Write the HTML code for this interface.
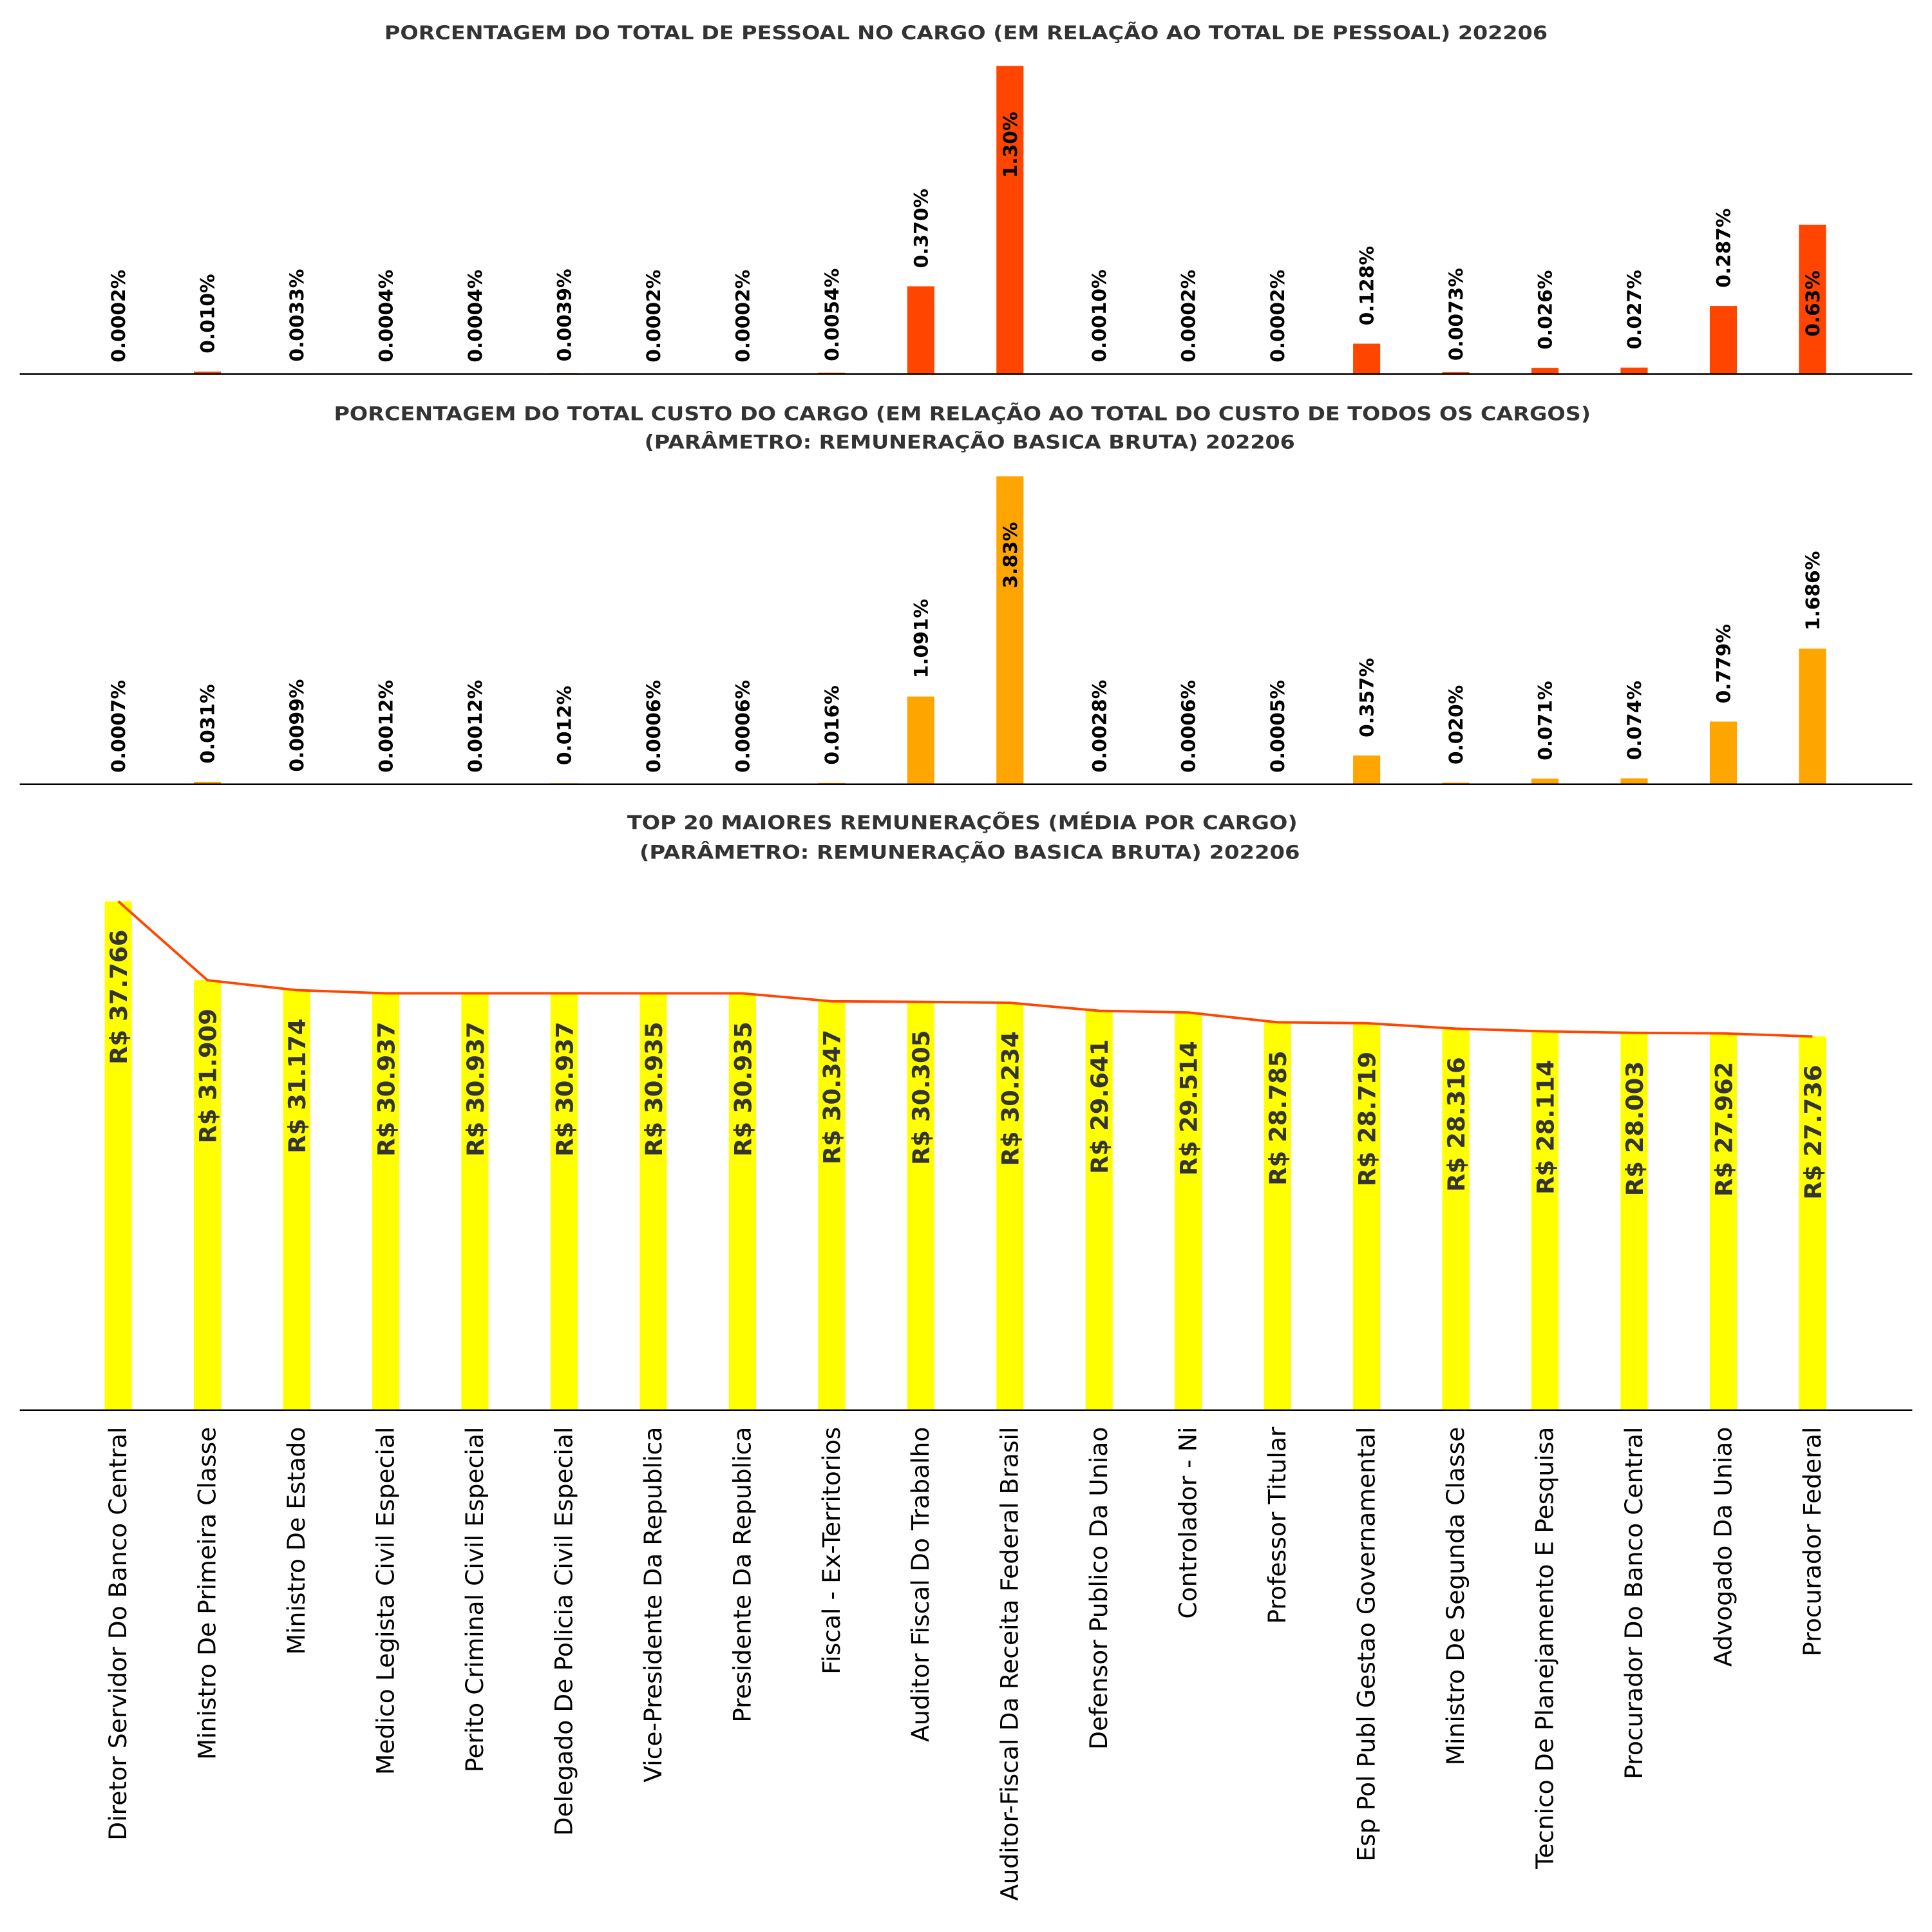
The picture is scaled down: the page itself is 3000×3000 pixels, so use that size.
<!DOCTYPE html>
<html><head><meta charset="utf-8">
<style>
html,body{margin:0;padding:0;background:#fff;}
svg{display:block;}
text{font-family:"DejaVu Sans","Liberation Sans",sans-serif;}
</style></head>
<body>
<svg id="chart" width="3000" height="3000" viewBox="0 0 1568 1568" xmlns="http://www.w3.org/2000/svg">
<rect x="0" y="0" width="1568" height="1568" fill="#fff"/>
<g fill="#333" font-weight="bold" font-size="15.5" text-anchor="middle">
<text x="784" y="32" textLength="944" lengthAdjust="spacingAndGlyphs">PORCENTAGEM DO TOTAL DE PESSOAL NO CARGO (EM RELAÇÃO AO TOTAL DE PESSOAL) 202206</text>
<text x="781" y="341" textLength="1020" lengthAdjust="spacingAndGlyphs">PORCENTAGEM DO TOTAL CUSTO DO CARGO (EM RELAÇÃO AO TOTAL DO CUSTO DE TODOS OS CARGOS)</text>
<text x="787" y="364" textLength="528" lengthAdjust="spacingAndGlyphs">(PARÂMETRO: REMUNERAÇÃO BASICA BRUTA) 202206</text>
<text x="781" y="673" textLength="544" lengthAdjust="spacingAndGlyphs">TOP 20 MAIORES REMUNERAÇÕES (MÉDIA POR CARGO)</text>
<text x="787" y="697" textLength="536" lengthAdjust="spacingAndGlyphs">(PARÂMETRO: REMUNERAÇÃO BASICA BRUTA)  202206</text>
</g>
<g id="p1"></g>
<g id="p2"></g>
<g id="p3"></g>
</svg>
<script>
const categories = ["Diretor Servidor Do Banco Central","Ministro De Primeira Classe","Ministro De Estado","Medico Legista Civil Especial","Perito Criminal Civil Especial","Delegado De Policia Civil Especial","Vice-Presidente Da Republica","Presidente Da Republica","Fiscal - Ex-Territorios","Auditor Fiscal Do Trabalho","Auditor-Fiscal Da Receita Federal Brasil","Defensor Publico Da Uniao","Controlador - Ni","Professor Titular","Esp Pol Publ Gestao Governamental","Ministro De Segunda Classe","Tecnico De Planejamento E Pesquisa","Procurador Do Banco Central","Advogado Da Uniao","Procurador Federal"];
const pessoalValues = [0.0002,0.010,0.0033,0.0004,0.0004,0.0039,0.0002,0.0002,0.0054,0.370,1.30,0.0010,0.0002,0.0002,0.128,0.0073,0.026,0.027,0.287,0.63];
const pessoalLabels = ["0.0002%","0.010%","0.0033%","0.0004%","0.0004%","0.0039%","0.0002%","0.0002%","0.0054%","0.370%","1.30%","0.0010%","0.0002%","0.0002%","0.128%","0.0073%","0.026%","0.027%","0.287%","0.63%"];
const custoValues = [0.0007,0.031,0.0099,0.0012,0.0012,0.012,0.0006,0.0006,0.016,1.091,3.83,0.0028,0.0006,0.0005,0.357,0.020,0.071,0.074,0.779,1.686];
const custoLabels = ["0.0007%","0.031%","0.0099%","0.0012%","0.0012%","0.012%","0.0006%","0.0006%","0.016%","1.091%","3.83%","0.0028%","0.0006%","0.0005%","0.357%","0.020%","0.071%","0.074%","0.779%","1.686%"];
const remuneracaoValues = [37766,31909,31174,30937,30937,30937,30935,30935,30347,30305,30234,29641,29514,28785,28719,28316,28114,28003,27962,27736];
const remuneracaoLabels = ["R$ 37.766","R$ 31.909","R$ 31.174","R$ 30.937","R$ 30.937","R$ 30.937","R$ 30.935","R$ 30.935","R$ 30.347","R$ 30.305","R$ 30.234","R$ 29.641","R$ 29.514","R$ 28.785","R$ 28.719","R$ 28.316","R$ 28.114","R$ 28.003","R$ 27.962","R$ 27.736"];

const NS = "http://www.w3.org/2000/svg";
function mk(tag, attrs, parent){
  const e = document.createElementNS(NS, tag);
  for (const k in attrs) e.setAttribute(k, attrs[k]);
  parent.appendChild(e);
  return e;
}
function xScale(i){ return 96 + i * (1471 - 96) / 19; }
const BW = 22;

function pctPanel(gid, vals, labels, base, color, name){
  const g = document.getElementById(gid);
  const maxV = Math.max(...vals);
  const y = v => base - v / maxV * 250;
  vals.forEach((v, i) => {
    const top = y(v);
    const r = mk('rect', {x: xScale(i) - BW/2, y: top, width: BW, height: base - top, fill: color}, g);
    
    
    const cy = (v / maxV > 0.45) ? top + 64 : top - 47;
    const cx = xScale(i) + 5.5;
    const t = mk('text', {x: cx, y: cy, 'text-anchor': 'middle', 'font-size': '15.5', 'font-weight': 'bold', fill: '#000', transform: 'rotate(-90 ' + cx + ' ' + cy + ')'}, g);
    t.textContent = labels[i];
    
    
  });
  const ax = mk('line', {x1: 16, x2: 1552, y1: base, y2: base, stroke: '#000', 'stroke-width': 1.3}, g);
  
  
}
pctPanel('p1', pessoalValues, pessoalLabels, 303.5, '#ff4500', 'pessoal');
pctPanel('p2', custoValues, custoLabels, 636.5, '#ffa500', 'custo');

(function(){
  const g = document.getElementById('p3');
  const base = 1144.5;
  const maxV = Math.max(...remuneracaoValues);
  const y = v => base - v / maxV * 413;
  remuneracaoValues.forEach((v, i) => {
    const top = y(v);
    const r = mk('rect', {x: xScale(i) - BW/2, y: top, width: BW, height: base - top, fill: '#ffff00'}, g);
    
    
  });
  const pts = remuneracaoValues.map((v, i) => xScale(i) + ',' + y(v)).join(' ');
  const pl = mk('polyline', {points: pts, fill: 'none', stroke: '#ff4500', 'stroke-width': 2}, g);
  
  
  remuneracaoValues.forEach((v, i) => {
    const top = y(v);
    const cx = xScale(i) + 7;
    const cy = top + 23;
    const t = mk('text', {x: cx, y: cy, 'text-anchor': 'end', 'font-size': '19.3', 'font-weight': 'bold', fill: '#333', transform: 'rotate(-90 ' + cx + ' ' + cy + ')'}, g);
    t.textContent = remuneracaoLabels[i];
    
    
  });
  const ax = mk('line', {x1: 16, x2: 1552, y1: base, y2: base, stroke: '#000', 'stroke-width': 1.3}, g);
  
  
  categories.forEach((c, i) => {
    const cx = xScale(i) + 6.5;
    const cy = 1158;
    const t = mk('text', {x: cx, y: cy, 'text-anchor': 'end', 'font-size': '19.7', fill: '#000', transform: 'rotate(-90 ' + cx + ' ' + cy + ')'}, g);
    t.textContent = c;
    
    
  });
})();
</script>
</body></html>
